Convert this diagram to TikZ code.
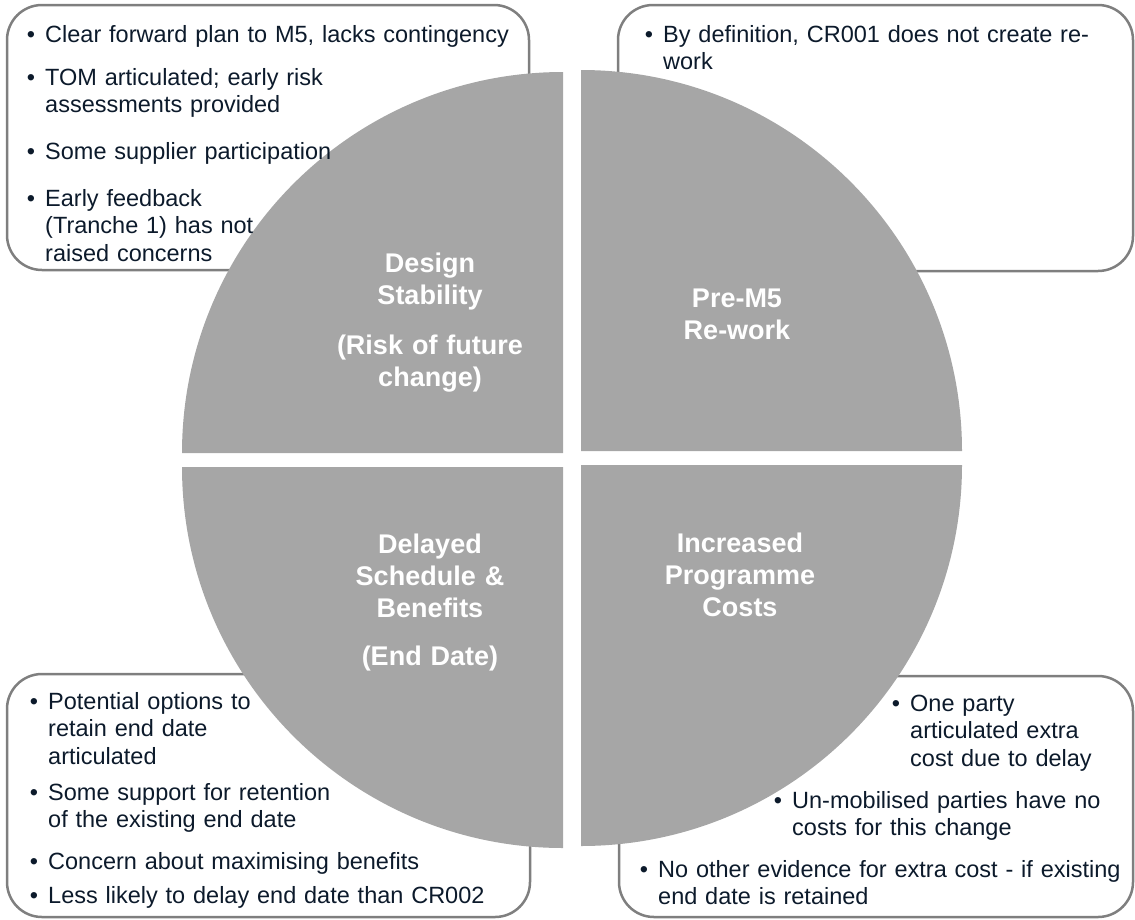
\documentclass[tikz,border=0pt]{standalone}
\usepackage{fontspec}
\setmainfont{Liberation Sans}
\definecolor{quadgray}{HTML}{A6A6A6}
\definecolor{framegray}{HTML}{7F7F7F}
\definecolor{ink}{HTML}{0C1A2B}
\newcommand{\dotitem}{\llap{\textbullet\hspace{10pt}}}

\begin{document}
\begin{tikzpicture}[x=1pt,y=1pt,
    notebox/.style={draw=framegray,line width=2.5pt,rounded corners=35pt},
    quadrant/.style={fill=quadgray},
    bulletitem/.style={anchor=base west,inner sep=0pt,text width=520pt,align=left,
      text=ink,font=\fontsize{23.5}{27.5}\selectfont},
    headline/.style={anchor=base,inner sep=0pt,text width=300pt,align=center,
      text=white,font=\bfseries\fontsize{27}{32}\selectfont}]
          \useasboundingbox (0,0) rectangle (1135,-919);

          % frames of the four notes
          \draw[notebox] (7,-5) rectangle (529,-270);
          \draw[notebox] (618,-5) rectangle (1133,-271);
          \draw[notebox] (7,-674) rectangle (530,-917);
          \draw[notebox] (619,-676) rectangle (1133,-917);

          % the split circle
          \fill[quadrant] (563,-453) -- (182,-453) arc[start angle=180,end angle=90,radius=381] -- cycle;
          \fill[quadrant] (581,-451) -- (581,-70) arc[start angle=90,end angle=0,radius=381] -- cycle;
          \fill[quadrant] (563,-467) -- (182,-467) arc[start angle=180,end angle=270,radius=381] -- cycle;
          \fill[quadrant] (581,-465) -- (962,-465) arc[start angle=0,end angle=-90,radius=381] -- cycle;

          % top left
          \node[bulletitem] (tlA) at (45,-42) {\dotitem Clear forward plan to M5, lacks contingency};
          \node[bulletitem] (tlB) at (45,-85) {\dotitem TOM articulated; early risk\\assessments provided};
          \node[bulletitem] (tlC) at (45,-159) {\dotitem Some supplier participation};
          \node[bulletitem] (tlD) at (45,-206) {\dotitem Early feedback\\(Tranche 1) has not\\raised concerns};

          % top right
          \node[bulletitem] (trA) at (663,-42) {\dotitem By definition, CR001 does not create re-\\work};

          % bottom left
          \node[bulletitem] (blA) at (48,-709) {\dotitem Potential options to\\retain end date\\articulated};
          \node[bulletitem] (blB) at (48,-800) {\dotitem Some support for retention\\of the existing end date};
          \node[bulletitem] (blC) at (48,-869) {\dotitem Concern about maximising benefits};
          \node[bulletitem] (blD) at (48,-903) {\dotitem Less likely to delay end date than CR002};

          % bottom right
          \node[bulletitem] (brA) at (910,-711) {\dotitem One party\\articulated extra\\cost due to delay};
          \node[bulletitem] (brB) at (792,-808) {\dotitem Un-mobilised parties have no\\costs for this change};
          \node[bulletitem] (brC) at (658,-877) {\dotitem No other evidence for extra cost - if existing\\end date is retained};

          % quadrant titles
          \node[headline] (design) at (430,-272) {Design\\Stability\\[18pt](Risk of future\\change)};
          \node[headline] (rework) at (737,-307) {Pre-M5\\Re-work};
          \node[headline] (delay) at (430,-553) {Delayed\\Schedule \&\\Benefits\\[16pt](End Date)};
          \node[headline] (costs) at (740,-552) {Increased\\Programme\\Costs};
        \end{tikzpicture}
\end{document}
